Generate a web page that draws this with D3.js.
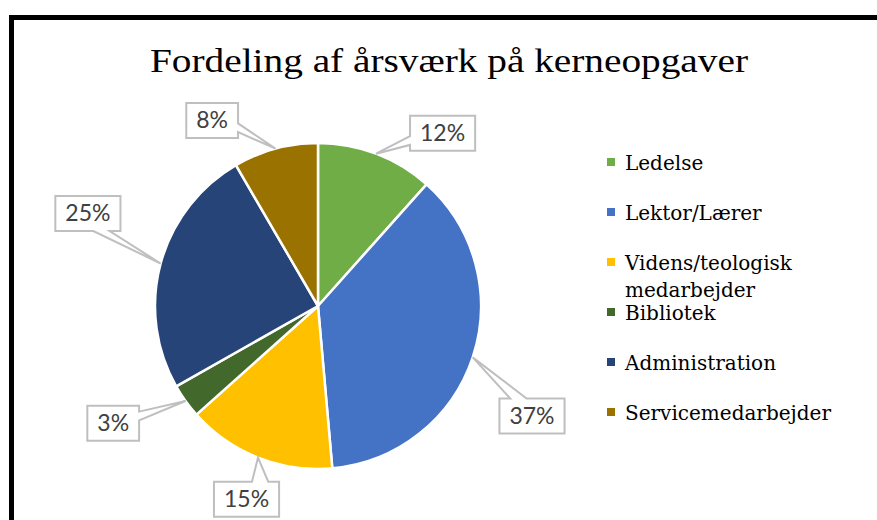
<!DOCTYPE html>
<html>
<head>
<meta charset="utf-8">
<script src="https://cdn.jsdelivr.net/npm/d3@7"></script>
<style>
  html, body { margin: 0; padding: 0; background: #fff; }
  svg { display: block; }
</style>
</head>
<body>
<svg id="chart" width="877" height="520"></svg>
<script>
// ---- data ----
const categories = ["Ledelse", "Lektor/Lærer", "Videns/teologisk medarbejder", "Bibliotek", "Administration", "Servicemedarbejder"];
const values = [11.6, 37.0, 14.8, 3.4, 24.8, 8.4];
const valueLabels = ["12%", "37%", "15%", "3%", "25%", "8%"];
const legendLines = [["Ledelse"], ["Lektor/Lærer"], ["Videns/teologisk", "medarbejder"], ["Bibliotek"], ["Administration"], ["Servicemedarbejder"]];
const colors = ["#70AD47", "#4472C4", "#FFC000", "#43682B", "#264478", "#9A7200"];
const titleText = "Fordeling af årsværk på kerneopgaver";

// ---- layout (label box placement: polar angle in degrees clockwise from top, radius) ----
const labelPlacement = [[35.8, 213], [117.2, 240.6], [200.3, 206], [240.2, 236], [291.9, 248], [330.3, 213.6]];

const svg = d3.select("#chart");
const W = 877, H = 520;
const cx = 318, cy = 306, R = 163;
const serif = "'Liberation Serif', 'DejaVu Serif', serif";
const legSerif = "'DejaVu Serif', 'Liberation Serif', serif";
const sans = "Lato, 'Open Sans', 'Liberation Sans', sans-serif";

svg.append("rect").attr("width", W).attr("height", H).attr("fill", "#fff");

// frame (top and left thick black edges)
svg.append("rect").attr("x", 9).attr("y", 15).attr("width", W).attr("height", 5).attr("fill", "#000");
svg.append("rect").attr("x", 9).attr("y", 15).attr("width", 5).attr("height", H).attr("fill", "#000");

// title
svg.append("text")
  .attr("x", 449).attr("y", 72)
  .attr("text-anchor", "middle")
  .attr("font-family", serif)
  .attr("font-size", 34)
  .attr("fill", "#000")
  .attr("textLength", 598)
  .attr("lengthAdjust", "spacingAndGlyphs")
  .text(titleText);

// pie
const pie = d3.pie().sort(null).value(d => d);
const arcs = pie(values);
const arc = d3.arc().innerRadius(0).outerRadius(R);
const g = svg.append("g").attr("transform", `translate(${cx},${cy})`);
g.selectAll("path.slice")
  .data(arcs)
  .join("path")
  .attr("class", "slice")
  .attr("d", arc)
  .attr("fill", (d, i) => colors[i])
  .attr("stroke", "#fff")
  .attr("stroke-width", 2.5)
  .attr("stroke-linejoin", "round");

// callout labels
function calloutPath(x0, y0, w, h, tx, ty) {
  const mx = x0 + w / 2, my = y0 + h / 2;
  const dx = tx - mx, dy = ty - my;
  const dq = dx * h / w;
  const x1 = x0 + w * (dx > 0 ? 7 : 2) / 12, x2 = x0 + w * (dx > 0 ? 10 : 5) / 12;
  const y1 = y0 + h * (dy > 0 ? 7 : 2) / 12, y2 = y0 + h * (dy > 0 ? 10 : 5) / 12;
  const r = x0 + w, b = y0 + h;
  let pts;
  if (Math.abs(dy) > Math.abs(dq)) {
    if (dy < 0) pts = [[x0, y0], [x1, y0], [tx, ty], [x2, y0], [r, y0], [r, b], [x0, b]];
    else pts = [[x0, y0], [r, y0], [r, b], [x2, b], [tx, ty], [x1, b], [x0, b]];
  } else {
    if (dx < 0) pts = [[x0, y0], [r, y0], [r, b], [x0, b], [x0, y2], [tx, ty], [x0, y1]];
    else pts = [[x0, y0], [r, y0], [r, y1], [tx, ty], [r, y2], [r, b], [x0, b]];
  }
  return "M" + pts.map(p => p.join(",")).join("L") + "Z";
}

const labG = svg.append("g");
arcs.forEach((d, i) => {
  const mid = (d.startAngle + d.endAngle) / 2;
  const tx = cx + R * Math.sin(mid), ty = cy - R * Math.cos(mid);
  const [angDeg, rad] = labelPlacement[i];
  const a = angDeg * Math.PI / 180;
  const bx = cx + rad * Math.sin(a), by = cy - rad * Math.cos(a);
  const grp = labG.append("g");
  const path = grp.append("path");
  const t = grp.append("text")
    .attr("x", bx).attr("y", by + 8)
    .attr("text-anchor", "middle")
    .attr("font-family", sans)
    .attr("font-size", 23)
    .attr("fill", "#404040")
    .text(valueLabels[i]);
  const tw = t.node().getComputedTextLength();
  const w = tw + 20, h = 35;
  path.attr("d", calloutPath(bx - w / 2, by - h / 2, w, h, tx, ty))
    .attr("fill", "#fff")
    .attr("stroke", "#BFBFBF")
    .attr("stroke-width", 2)
    .attr("stroke-linejoin", "miter");
});

// legend
const legY = d3.scaleLinear().domain([0, 1]).range([162, 212]);
const leg = svg.append("g");
categories.forEach((c, i) => {
  const y = legY(i);
  leg.append("rect")
    .attr("x", 607).attr("y", y - 4).attr("width", 8).attr("height", 8)
    .attr("fill", colors[i]);
  const t = leg.append("text")
    .attr("x", 625).attr("y", y + 8)
    .attr("font-family", legSerif)
    .attr("font-size", 20)
    .attr("fill", "#000");
  legendLines[i].forEach((ln, j) => {
    t.append("tspan").attr("x", 625).attr("dy", j === 0 ? 0 : 27).text(ln);
  });
});
</script>
</body>
</html>
